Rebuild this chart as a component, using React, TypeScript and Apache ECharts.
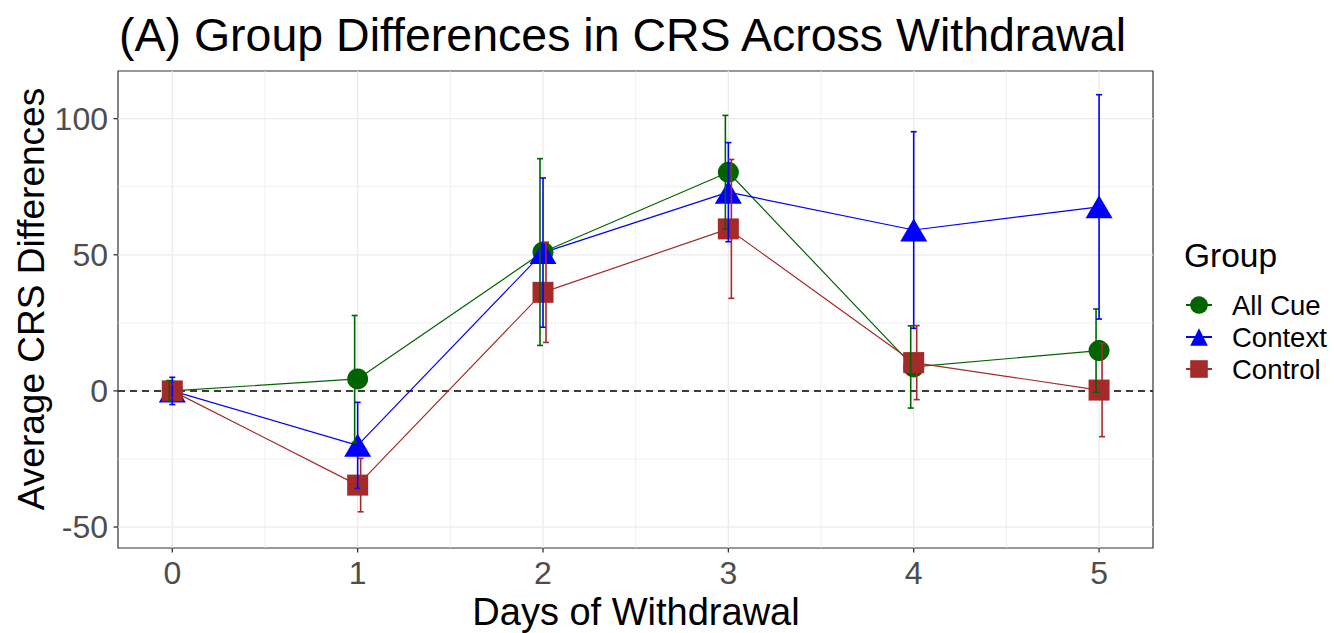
import React, { useEffect, useRef } from "react";
import * as echarts from "echarts";

const days = [0, 1, 2, 3, 4, 5];
const groupNames = ["All Cue", "Context", "Control"];
const allCueMean = [0, 4.4, 51, 80.3, 8.8, 14.8];
const allCueErr = [3.8, 23.3, 34.3, 20.9, 15.1, 15.3];
const contextMean = [0, -20, 50.8, 73, 59.1, 67.6];
const contextErr = [5, 15.8, 27.4, 18.2, 36.1, 41.2];
const controlMean = [0, -34.6, 36.2, 59.5, 10.4, 0.3];
const controlErr = [2.5, 9.8, 18.4, 25.5, 13.6, 17.1];

const xTicks = [0, 1, 2, 3, 4, 5];
const xMinor = [0.5, 1.5, 2.5, 3.5, 4.5];
const yTicks = [-50, 0, 50, 100];
const yMinor = [-25, 25, 75];

const FONT = "'Liberation Sans', Arial, sans-serif";
const colors = ["#006400", "#0000FF", "#A52A2A"];
const symbols = ["circle", "triangle", "rect"];
const symbolSizes: any[] = [21, [27, 23], 21];
const dodge = [-3, 0, 3];

export default function App() {
  const ref = useRef<HTMLDivElement>(null);
  useEffect(() => {
    if (!ref.current) return;
    const chart = echarts.init(ref.current, undefined, { renderer: "svg" });
    const means = [allCueMean, contextMean, controlMean];
    const errs = [allCueErr, contextErr, controlErr];

    const vLine = (color: string, width: number) => (params: any, api: any) => {
      const cs = params.coordSys;
      const x = api.coord([api.value(0), 0])[0];
      return {
        type: "line",
        shape: { x1: x, y1: cs.y, x2: x, y2: cs.y + cs.height },
        style: { stroke: color, lineWidth: width },
        silent: true,
      };
    };
    const hLine = (color: string, width: number, dash?: number[]) => (params: any, api: any) => {
      const cs = params.coordSys;
      const y = api.coord([0, api.value(1)])[1];
      return {
        type: "line",
        shape: { x1: cs.x, y1: y, x2: cs.x + cs.width, y2: y },
        style: { stroke: color, lineWidth: width, lineDash: dash },
        silent: true,
      };
    };
    const xTick = (params: any, api: any) => {
      const cs = params.coordSys;
      const x = api.coord([api.value(0), 0])[0];
      const y0 = cs.y + cs.height;
      return { type: "line", shape: { x1: x, y1: y0, x2: x, y2: y0 + 4.5 }, style: { stroke: "#333333", lineWidth: 1.3 }, silent: true };
    };
    const yTick = (params: any, api: any) => {
      const cs = params.coordSys;
      const y = api.coord([0, api.value(1)])[1];
      return { type: "line", shape: { x1: cs.x - 4.5, y1: y, x2: cs.x, y2: y }, style: { stroke: "#333333", lineWidth: 1.3 }, silent: true };
    };

    const series: any[] = [
      { type: "custom", name: "gridMinorX", renderItem: vLine("#ebebeb", 0.8), data: xMinor.map((v) => [v, 0]), z: 0, silent: true },
      { type: "custom", name: "gridMinorY", renderItem: hLine("#ebebeb", 0.8), data: yMinor.map((v) => [0, v]), z: 0, silent: true },
      { type: "custom", name: "gridMajorX", renderItem: vLine("#ebebeb", 1.3), data: xTicks.map((v) => [v, 0]), z: 0, silent: true },
      { type: "custom", name: "gridMajorY", renderItem: hLine("#ebebeb", 1.3), data: yTicks.map((v) => [0, v]), z: 0, silent: true },
      { type: "custom", name: "ticksX", renderItem: xTick, data: xTicks.map((v) => [v, 0]), z: 5, clip: false, silent: true },
      { type: "custom", name: "ticksY", renderItem: yTick, data: yTicks.map((v) => [0, v]), z: 5, clip: false, silent: true },
      { type: "custom", name: "zeroLine", renderItem: hLine("#000000", 1.5, [7, 5]), data: [[0, 0]], z: 1, silent: true },
    ];

    groupNames.forEach((name, i) => {
      series.push({
        type: "line",
        name,
        data: days.map((d, j) => [d, means[i][j]]),
        symbol: symbols[i],
        symbolSize: symbolSizes[i],
        showSymbol: false,
        lineStyle: { color: colors[i], width: 1.2 },
        itemStyle: { color: colors[i] },
        z: 2,
        silent: true,
      });
    });
    groupNames.forEach((name, i) => {
      series.push({
        type: "scatter",
        name,
        data: days.map((d, j) => [d, means[i][j]]),
        symbol: symbols[i],
        symbolSize: symbolSizes[i],
        itemStyle: { color: colors[i], opacity: 1 },
        z: 3,
        silent: true,
      });
    });
    groupNames.forEach((name, i) => {
      series.push({
        type: "custom",
        name,
        data: days.map((d, j) => [d, means[i][j] - errs[i][j], means[i][j] + errs[i][j]]),
        encode: { x: 0, y: [1, 2] },
        z: 4,
        silent: true,
        renderItem: (params: any, api: any) => {
          const lo = api.coord([api.value(0), api.value(1)]);
          const hi = api.coord([api.value(0), api.value(2)]);
          const x = lo[0] + dodge[i];
          const cap = 3;
          const style = { stroke: colors[i], lineWidth: 1.6 };
          return {
            type: "group",
            children: [
              { type: "line", shape: { x1: x, y1: lo[1], x2: x, y2: hi[1] }, style },
              { type: "line", shape: { x1: x - cap, y1: lo[1], x2: x + cap, y2: lo[1] }, style },
              { type: "line", shape: { x1: x - cap, y1: hi[1], x2: x + cap, y2: hi[1] }, style },
            ],
          };
        },
      });
    });

    chart.setOption({
      animation: false,
      grid: {
        left: 118,
        top: 71,
        width: 1035,
        height: 477,
        show: true,
        borderColor: "#333333",
        borderWidth: 1.2,
        backgroundColor: "#ffffff",
      },
      xAxis: {
        type: "value",
        min: -0.293,
        max: 5.291,
        axisLine: { show: false, onZero: false },
        splitLine: { show: false },
        axisTick: { show: false },
        axisLabel: { customValues: xTicks, fontSize: 32, lineHeight: 30, color: "#4d4d4d", fontFamily: FONT, margin: 10 },
      },
      yAxis: {
        type: "value",
        min: -57.7,
        max: 117.5,
        axisLine: { show: false, onZero: false },
        splitLine: { show: false },
        axisTick: { show: false },
        axisLabel: { customValues: yTicks, fontSize: 32, color: "#4d4d4d", fontFamily: FONT, margin: 10 },
      },
      legend: {
        data: groupNames,
        orient: "vertical",
        left: 1180,
        top: 286,
        itemWidth: 26,
        itemHeight: 22,
        itemGap: 4,
        textStyle: { fontSize: 27.5, color: "#000000", fontFamily: FONT, padding: [0, 0, 0, 15] },
        selectedMode: false,
      },
      graphic: [
        {
          type: "text",
          left: 119,
          top: 11,
          style: { text: "(A) Group Differences in CRS Across Withdrawal", font: `46.5px ${FONT}`, fill: "#000000" },
        },
        {
          type: "text",
          x: 636,
          y: 612,
          style: { text: "Days of Withdrawal", font: `38px ${FONT}`, lineHeight: 34, fill: "#000000", align: "center", verticalAlign: "middle" },
        },
        {
          type: "text",
          x: 31,
          y: 299,
          rotation: Math.PI / 2,
          style: { text: "Average CRS Differences", font: `37px ${FONT}`, fill: "#000000", align: "center", verticalAlign: "middle" },
        },
        {
          type: "text",
          x: 1184,
          y: 255,
          style: { text: "Group", font: `33.5px ${FONT}`, fill: "#000000", align: "left", verticalAlign: "middle" },
        },
      ],
      series,
    });
    return () => chart.dispose();
  }, []);
  return <div ref={ref} style={{ position: "absolute", left: 0, top: 0, width: 1334, height: 633 }} />;
}
